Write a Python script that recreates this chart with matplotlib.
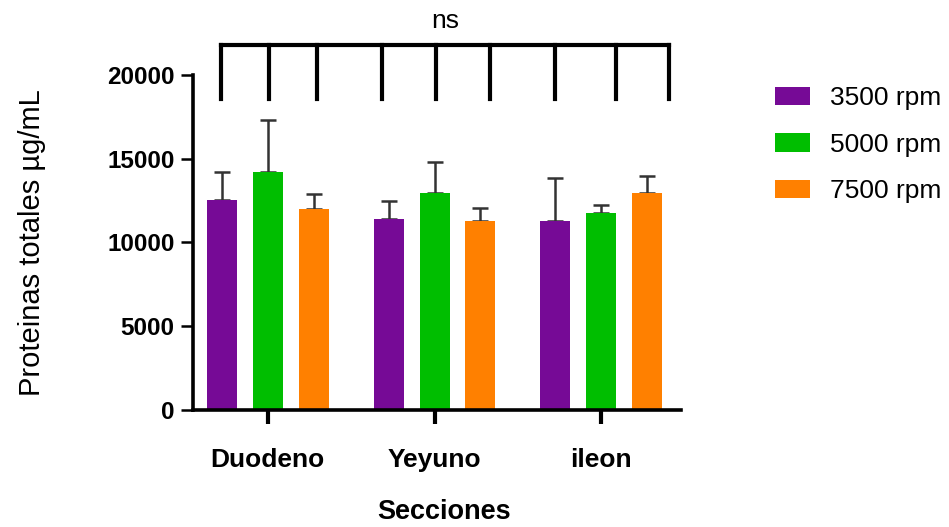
import numpy as np
import matplotlib
matplotlib.use("Agg")
import matplotlib.pyplot as plt

plt.rcParams['font.family'] = ['Liberation Sans', 'DejaVu Sans']

# Data
sections = ["Duodeno", "Yeyuno", "ileon"]
speeds = ["3500 rpm", "5000 rpm", "7500 rpm"]
means_3500 = [12550, 11400, 11250]
means_5000 = [14200, 12950, 11780]
means_7500 = [12000, 11250, 12950]
sd_3500 = [1650, 1100, 2600]
sd_5000 = [3100, 1850, 480]
sd_7500 = [870, 800, 1020]
y_ticks = [0, 5000, 10000, 15000, 20000]
sig_label = "ns"

colors = ["#760A96", "#00BE00", "#FF8000"]
means = [means_3500, means_5000, means_7500]
sds = [sd_3500, sd_5000, sd_7500]

fig = plt.figure(figsize=(9.49, 5.27), dpi=100)
ax = fig.add_axes([0.203, 0.222, 0.515, 0.636])

x = np.arange(len(sections))
offset = 0.275
width = 0.18
for i, (m, s, c, lab) in enumerate(zip(means, sds, colors, speeds)):
    xp = x + (i - 1) * offset
    ax.bar(xp, m, width=width, color=c, label=lab, zorder=2)
    ax.errorbar(xp, m, yerr=[np.zeros(len(s)), s], fmt="none",
                ecolor="#333333", elinewidth=1.8, capsize=6, capthick=1.8,
                zorder=1)

ax.set_xlim(-0.45, 2.48)
ax.set_ylim(0, 20000)
ax.set_yticks(y_ticks)
ax.set_yticklabels([str(t) for t in y_ticks], fontsize=17.5, fontweight="bold")
ax.set_xticks(x)
ax.set_xticklabels(sections, fontsize=19, fontweight="bold")
ax.tick_params(axis="x", length=10, width=3, pad=17)
ax.tick_params(axis="y", length=9, width=1.8, pad=4)

for side in ["top", "right"]:
    ax.spines[side].set_visible(False)
for side in ["left", "bottom"]:
    ax.spines[side].set_linewidth(2.6)

ax.set_ylabel("Proteinas totales µg/mL", fontsize=21, labelpad=44)
ax.set_xlabel("Secciones", fontsize=19.5, fontweight="bold", labelpad=22)
ax.xaxis.set_label_coords(0.514, -0.265)

# Significance bracket over all bars
bracket_x = [-0.28, 0.01, 0.293, 0.683, 1.007, 1.331, 1.724, 2.089, 2.406]
y_top, y_bot = 21800, 18570
ax.plot([bracket_x[0], bracket_x[-1]], [y_top, y_top], color="black",
        lw=3, clip_on=False, solid_capstyle="projecting")
for bx in bracket_x:
    ax.plot([bx, bx], [y_bot, y_top], color="black", lw=3, clip_on=False)
ax.text(np.mean([bracket_x[0], bracket_x[-1]]), y_top + 700, sig_label,
        ha="center", va="bottom", fontsize=19, clip_on=False)

leg = fig.legend(loc="upper left", bbox_to_anchor=(775 / 949, 1 - 86 / 527),
                 frameon=False, fontsize=19, handlelength=1.33,
                 handleheight=0.7, labelspacing=0.86, handletextpad=0.76,
                 borderpad=0, borderaxespad=0)

fig.savefig("out.png", dpi=100)
